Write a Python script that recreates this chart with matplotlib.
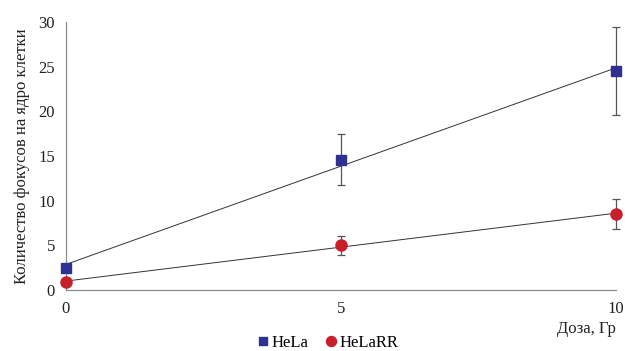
import numpy as np
import matplotlib
matplotlib.use("Agg")
import matplotlib.pyplot as plt

plt.rcParams["font.family"] = ["Liberation Serif", "DejaVu Serif"]

dose = [0, 5, 10]
hela = [2.5, 14.6, 24.5]
hela_err = [0.0, 2.9, 4.9]
helarr = [0.9, 5.0, 8.5]
helarr_err = [0.0, 1.05, 1.65]

BLUE = "#2E3192"
RED = "#C8202A"
AXIS = "#8C8C8C"

fig = plt.figure(figsize=(6.25, 3.51), dpi=100)
ax = fig.add_axes([0.1056, 0.1738, 0.88, 0.7635])

xs = np.array([0, 10])
for y, err, color, marker, ms, label in [
    (hela, hela_err, BLUE, "s", 7, "HeLa"),
    (helarr, helarr_err, RED, "o", 8, "HeLaRR"),
]:
    k, b = np.polyfit(dose, y, 1)
    ax.plot(xs, k * xs + b, color="#333333", lw=0.7, zorder=2)
    eb = ax.errorbar(dose, y, yerr=err, fmt="none", ecolor="#555555", elinewidth=0.9,
                     capsize=3, capthick=0.9, zorder=3)
    for art in eb.get_children():
        art.set_clip_on(False)
    ax.plot(dose, y, linestyle="none", marker=marker, ms=ms, color=color,
            label=label, zorder=4, clip_on=False)

ax.set_xlim(0, 10)
ax.set_ylim(0, 30)
ax.set_xticks([0, 5, 10])
ax.set_yticks(range(0, 31, 5))
ax.tick_params(length=0, labelsize=12, colors="#222222", pad=8)
for s in ["top", "right"]:
    ax.spines[s].set_visible(False)
for s in ["left", "bottom"]:
    ax.spines[s].set_color(AXIS)
    ax.spines[s].set_linewidth(0.9)

ax.set_ylabel("Количество фокусов на ядро клетки", fontsize=12, color="#222222", labelpad=6)
fig.text(0.985, 0.062, "Доза, Гр", ha="right", va="center", fontsize=12, color="#222222")

fig.legend(loc="center", bbox_to_anchor=(0.523, 0.022), ncol=2, frameon=False,
           fontsize=12, handletextpad=0.05, columnspacing=0.9, markerscale=0.9,
           handlelength=0.9)

fig.savefig("out.png", dpi=100)
